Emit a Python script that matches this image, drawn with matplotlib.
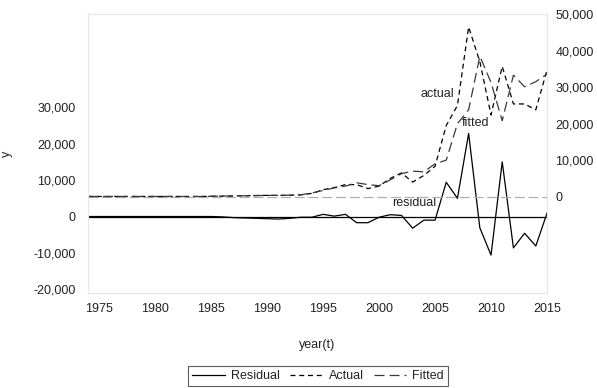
import numpy as np
import matplotlib
matplotlib.use('Agg')
import matplotlib.pyplot as plt

plt.rcParams['font.family'] = ['Liberation Sans', 'DejaVu Sans']

# Data
years = list(range(1974, 2016))

residual = [0, 0, 0, 0, 0, 0, 0, 0, 0, 0, 0, 0,
            -100, -300, -400, -500, -600, -700, -500, -200, -200, 600,
            100, 600, -1700, -1700, -200, 500, 300, -3200, -1000, -1000,
            9400, 5000, 22800, -3100, -10600, 15000, -8600, -4600, -8100, 900]

actual = [50, 50, 50, 50, 50, 50, 50, 50, 50, 50, 50, 100,
          150, 200, 250, 300, 350, 350, 400, 500, 900, 1900,
          2500, 3300, 3300, 2200, 2900, 5000, 6500, 4000, 5800, 8300,
          19500, 25000, 46500, 37000, 22400, 35700, 25400, 25400, 23800, 34700]

fitted = [50, 50, 50, 50, 50, 50, 50, 50, 50, 50, 50, 100,
          150, 200, 250, 300, 350, 350, 400, 500, 1000, 1700,
          2400, 2900, 3800, 3300, 3000, 4600, 6300, 7000, 6800, 9000,
          10000, 20000, 23800, 38500, 31300, 20800, 33300, 30100, 31500, 33600]

x_ticks = [1975, 1980, 1985, 1990, 1995, 2000, 2005, 2010, 2015]
left_ticks = [-20000, -10000, 0, 10000, 20000, 30000]
right_ticks = [0, 10000, 20000, 30000, 40000, 50000]

text_color = '#222222'
spine_color = '#e8e8e8'

fig = plt.figure(figsize=(5.97, 3.88), dpi=100)
ax = fig.add_axes([88 / 597, 1 - 293 / 388, (547 - 88) / 597, (293 - 14) / 388])
ax2 = ax.twinx()

# residual on the left axis
ax.axhline(0, color='black', lw=0.9, zorder=1)
l_res, = ax.plot(years, residual, color='black', lw=0.9, label='Residual')

# actual / fitted on the right axis
ax2.axhline(0, color='#b0b0b0', lw=0.9, dashes=(8, 3), zorder=1)
l_act, = ax2.plot(years, actual, color='black', lw=0.9, dashes=(4, 3), label='Actual')
l_fit, = ax2.plot(years, fitted, color='#3a3a3a', lw=0.9, dashes=(8, 4), label='Fitted')

ax.set_xlim(1974, 2015)
ax.set_ylim(-21000, 55600)
ax2.set_ylim(-26400, 50050)

ax.set_xticks(x_ticks)
ax.set_yticks(left_ticks)
ax2.set_yticks(right_ticks)
fmt = matplotlib.ticker.FuncFormatter(lambda v, p: '{:,.0f}'.format(v))
ax.yaxis.set_major_formatter(fmt)
ax2.yaxis.set_major_formatter(fmt)

for a in (ax, ax2):
    for s in a.spines.values():
        s.set_color(spine_color)
        s.set_linewidth(0.8)
    a.tick_params(length=0, labelsize=9, colors=text_color)
ax.tick_params(axis='y', pad=9)
ax2.tick_params(axis='y', pad=6)
ax.tick_params(axis='x', pad=7)

ax.set_ylabel('y', fontsize=9, color=text_color)
ax.yaxis.set_label_coords(-0.163, 0.50)
ax.set_xlabel('year(t)', fontsize=9, color=text_color)
ax.xaxis.set_label_coords(0.499, -0.165)

# in-plot labels
ax2.text(2005.2, 28100, 'actual', fontsize=9, color=text_color, ha='center', va='center')
ax2.text(2008.6, 20200, 'fitted', fontsize=9, color=text_color, ha='center', va='center')
ax.text(2003.1, 3700, 'residual', fontsize=9, color=text_color, ha='center', va='center')

leg = fig.legend(handles=[l_res, l_act, l_fit], loc='center', ncol=3,
                 bbox_to_anchor=(318 / 597, 1 - 376 / 388), fontsize=9,
                 fancybox=False, edgecolor='#333333', handlelength=2.6,
                 handletextpad=0.5, columnspacing=0.8, borderpad=0.3)
leg.get_frame().set_linewidth(0.8)
for t in leg.get_texts():
    t.set_color(text_color)

fig.savefig('out.png', dpi=100)
